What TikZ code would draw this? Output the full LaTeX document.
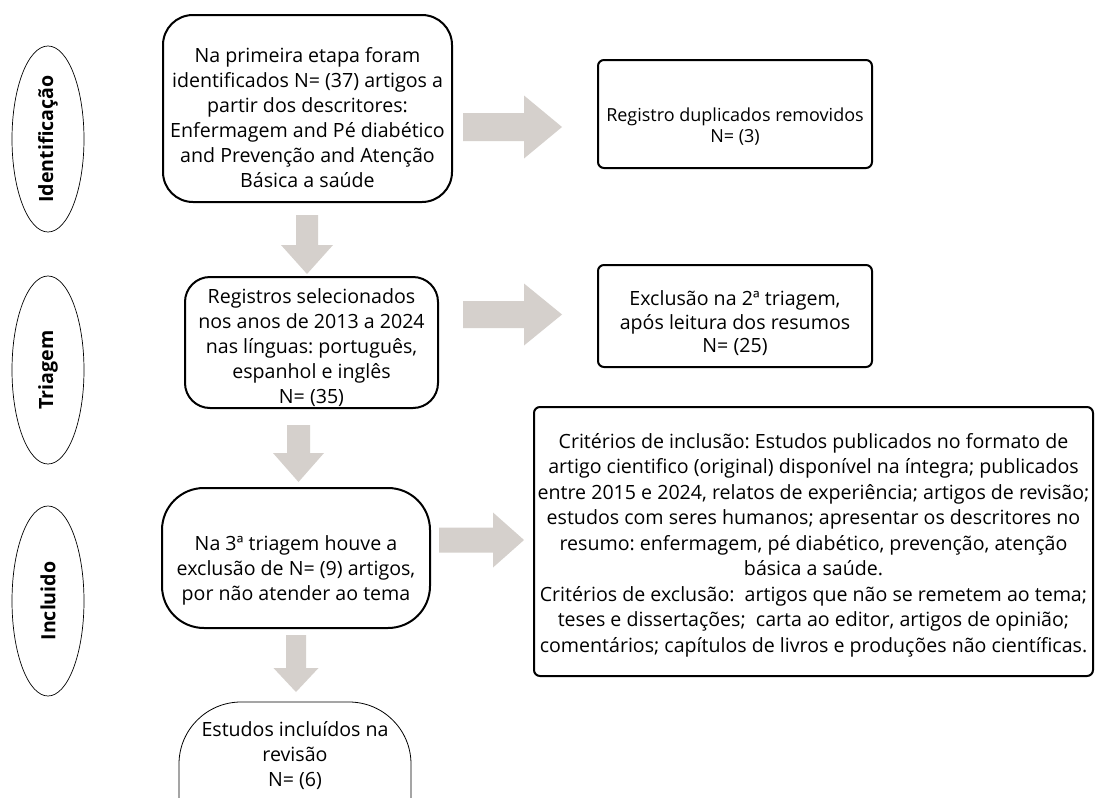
\documentclass[tikz,border=0pt]{standalone}
\usepackage{fontspec}
\setmainfont{Open Sans}
\frenchspacing
\usetikzlibrary{shapes.geometric}
\definecolor{arrowgray}{RGB}{213,208,204}
\tikzset{
  txt/.style={align=center, inner sep=0pt, font=\fontsize{19.6}{25}\selectfont},
  roundbox/.style={draw, line width=2pt, rounded corners=#1, inner sep=0pt},
  sqbox/.style={draw, line width=2pt, rounded corners=6pt, inner sep=0pt},
  stage/.style={draw, line width=0.7pt, ellipse, rotate=90, minimum height=72pt, inner sep=0pt, font=\bfseries\fontsize{19.6}{24}\selectfont},
  arrowfill/.style={fill=arrowgray},
  pics/rightarrow/.style n args={4}{code={\fill[arrowfill] (0,-#2)--(#1,-#2)--(#1,-#4)--({#1+#3},0)--(#1,#4)--(#1,#2)--(0,#2)--cycle;}},
  pics/downarrow/.style n args={4}{code={\fill[arrowfill] (-#2,0)--(-#2,#1)--(-#4,#1)--(0,{#1+#3})--(#4,#1)--(#2,#1)--(#2,0)--cycle;}},
}
\begin{document}
\begin{tikzpicture}[x=1pt,y=-1pt]
\useasboundingbox (0,0) rectangle (1101,798);
\clip (0,0) rectangle (1101,798);
\fill[white] (0,0) rectangle (1101,798);

% stage ellipses
\node[stage, minimum width=186pt] (s1) at (48,139) {Identificação};
\node[stage, minimum width=188pt] (s2) at (48,370) {Triagem};
\node[stage, minimum width=190pt] (s3) at (48,601) {Incluido};

% main column
\node[roundbox=30pt, minimum width=289pt, minimum height=187pt] (b1) at (307.5,108.5) {};
\node[txt] (b1t) at (307.5,117.5) {Na primeira etapa foram\\identificados N= (37) artigos a\\partir dos descritores:\\Enfermagem and Pé diabético\\and Prevenção and Atenção\\Básica a saúde};

\node[roundbox=25pt, minimum width=253pt, minimum height=131pt] (b2) at (311.5,342.5) {};
\node[txt] (b2t) at (311.5,348) {Registros selecionados\\nos anos de 2013 a 2024\\nas línguas: português,\\espanhol e inglês\\N= (35)};

\node[roundbox=42pt, minimum width=268pt, minimum height=140pt] (b3) at (296,558) {};
\node[txt] (b3t) at (296,570) {Na 3ª triagem houve a\\exclusão de N= (9) artigos,\\por não atender ao tema};

\node[draw, line width=0.8pt, rounded corners=62pt, inner sep=0pt, minimum width=232pt, minimum height=200pt] (b4) at (295,802) {};
\node[txt] (b4t) at (295,756) {Estudos incluídos na\\revisão\\N= (6)};

% right column
\node[sqbox, minimum width=274pt, minimum height=108pt] (r1) at (735,114) {};
\node[txt, font=\fontsize{18}{21}\selectfont] (r1t) at (735,127) {Registro duplicados removidos\\N= (3)};

\node[sqbox, minimum width=274pt, minimum height=102pt] (r2) at (735,316) {};
\node[txt, font=\fontsize{19.6}{23.5}\selectfont] (r2t) at (735,323.5) {Exclusão na 2ª triagem,\\após leitura dos resumos\\N= (25)};

\node[sqbox, minimum width=559pt, minimum height=269pt] (r3) at (813.5,541.5) {};
\node[txt, font=\fontsize{19.6}{25.5}\selectfont] (r3t) at (813.5,545) {Critérios de inclusão: Estudos publicados no formato de\\artigo cientifico (original) disponível na íntegra; publicados\\entre 2015 e 2024, relatos de experiência; artigos de revisão;\\estudos com seres humanos; apresentar os descritores no\\resumo: enfermagem, pé diabético, prevenção, atenção\\básica a saúde.\\Critérios de exclusão:\ \ artigos que não se remetem ao tema;\\teses e dissertações;\ \ carta ao editor, artigos de opinião;\\comentários; capítulos de livros e produções não científicas.};

% block arrows
\pic at (463,127) {rightarrow={61}{14}{38}{31.5}};
\pic at (463,314.5) {rightarrow={61}{13.5}{38}{31}};
\pic at (439,540) {rightarrow={54}{12.5}{31}{27.5}};
\pic at (307,215) {downarrow={30}{11}{29}{26}};
\pic at (298.5,425) {downarrow={28}{11.5}{29}{25.5}};
\pic at (296,635) {downarrow={33}{10}{24}{22.5}};
\end{tikzpicture}
\end{document}
